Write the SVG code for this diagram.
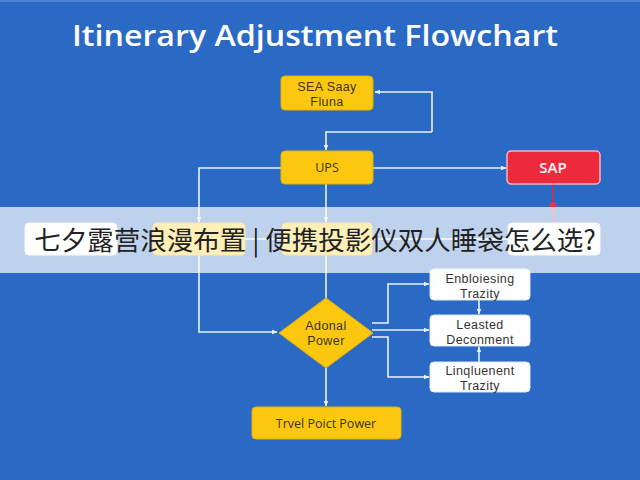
<svg xmlns="http://www.w3.org/2000/svg" width="640" height="480" viewBox="0 0 640 480">
<defs>
<style>
.bg{fill:#2a69c4}
.yb{fill:#fbc80f;stroke:#e8b200;stroke-width:1}
.wb{fill:#ffffff;stroke:#dfe7f3;stroke-width:1}
.rb{fill:#ec2a3c;stroke:#f7b3c0;stroke-width:1.5}
.ln{fill:none;stroke:#eaf2ff;stroke-width:1.6}
.rl{fill:none;stroke:#e8283a;stroke-width:1.6}
.t{font-family:"Open Sans","Liberation Sans",sans-serif;text-anchor:middle}
.m{font-family:"Liberation Sans","Open Sans",sans-serif;text-anchor:middle;letter-spacing:0.4px}
.dk{fill:#3b3414;font-size:12.5px}
.gk{fill:#333;font-size:12.5px}
.title{fill:#ffffff;font-size:28px;font-weight:600}
.cjk{font-family:"Noto Sans CJK SC","Noto Sans",sans-serif;font-size:26.5px;fill:#222}
</style>
<marker id="ah" viewBox="0 0 10 10" refX="9" refY="5" markerWidth="6" markerHeight="6" orient="auto-start-reverse" markerUnits="userSpaceOnUse">
<path d="M0,1 L10,5 L0,9 z" fill="#eaf2ff"/>
</marker>
</defs>
<rect class="bg" x="0" y="0" width="640" height="480"/>
<rect x="0" y="0" width="640" height="2" fill="#4a82d0"/>
<text class="t title" x="315" y="46" textLength="486" lengthAdjust="spacingAndGlyphs">Itinerary Adjustment Flowchart</text>

<g id="connectors">
<path class="ln" d="M432,132 H326 V150" marker-end="url(#ah)"/>
<path class="ln" d="M432,132 V92 H375" marker-end="url(#ah)"/>
<path class="ln" d="M281,168 H199 V222" marker-end="url(#ah)"/>
<path class="ln" d="M326,184 V222" marker-end="url(#ah)"/>
<path class="ln" d="M373,168 H506" marker-end="url(#ah)"/>
<path class="ln" d="M245,239 H282"/>
<path class="ln" d="M372,239 H508"/>
<path class="ln" d="M199,255 V332 H277" marker-end="url(#ah)"/>
<path class="ln" d="M326,255 V298"/>
<path class="ln" d="M372,323 H388 V284 H429" marker-end="url(#ah)"/>
<path class="ln" d="M372,330 H429" marker-end="url(#ah)"/>
<path class="ln" d="M372,337 H388 V377 H429" marker-end="url(#ah)"/>
<path class="ln" d="M479,300 V314" marker-end="url(#ah)"/>
<path class="ln" d="M479,362 V347" marker-end="url(#ah)"/>
<path class="ln" d="M326,368 V406" marker-end="url(#ah)"/>
<path class="rl" d="M553,184 V223"/>
<circle cx="553" cy="206" r="3.5" fill="#f0304a"/>
</g>

<g id="n-sea">
<rect class="yb" x="281" y="76" width="92" height="34" rx="4"/>
<text class="m dk" x="327" y="91">SEA Saay</text>
<text class="m dk" x="327" y="105.5">Fluna</text>
</g>
<g id="n-ups">
<rect class="yb" x="281" y="151" width="92" height="33" rx="4"/>
<text class="t dk" x="327" y="172" font-size="14.5">UPS</text>
</g>
<g id="n-sap">
<rect class="rb" x="507" y="151" width="93" height="33" rx="4"/>
<text class="t" x="553" y="173" fill="#ffffff" font-size="15" font-weight="600">SAP</text>
</g>
<g id="n-row-1"><rect class="wb" x="25" y="223" width="92" height="32" rx="4"/></g>
<g id="n-row-2"><rect class="yb" x="153" y="223" width="92" height="32" rx="4"/></g>
<g id="n-row-3"><rect class="yb" x="282" y="223" width="90" height="32" rx="4"/></g>
<g id="n-row-4"><rect class="wb" x="508" y="223" width="92" height="32" rx="4"/></g>
<g id="n-decision">
<polygon points="326,298 373,333 326,368 279,333" fill="#fbc80f" stroke="#e8b200"/>
<text class="m dk" x="326" y="330">Adonal</text>
<text class="m dk" x="326" y="345">Power</text>
</g>
<g id="n-enb">
<rect class="wb" x="430" y="269" width="100" height="31" rx="4"/>
<text class="m gk" x="480" y="283">Enbloiesing</text>
<text class="m gk" x="480" y="297.5">Trazity</text>
</g>
<g id="n-lea">
<rect class="wb" x="430" y="315" width="100" height="31" rx="4"/>
<text class="m gk" x="480" y="329">Leasted</text>
<text class="m gk" x="480" y="343.5">Deconment</text>
</g>
<g id="n-lin">
<rect class="wb" x="430" y="362" width="100" height="30" rx="4"/>
<text class="m gk" x="480" y="375">Linqluenent</text>
<text class="m gk" x="480" y="389.5">Trazity</text>
</g>
<g id="n-travel">
<rect class="yb" x="252" y="407" width="149" height="32" rx="4"/>
<text class="t dk" x="326" y="428" font-size="14">Trvel Poict Power</text>
</g>

<rect x="0" y="207" width="640" height="66" fill="#ffffff" opacity="0.7"/>
<text class="cjk" x="315" y="250" text-anchor="middle">七夕露营浪漫布置 | 便携投影仪双人睡袋怎么选?</text>
</svg>
